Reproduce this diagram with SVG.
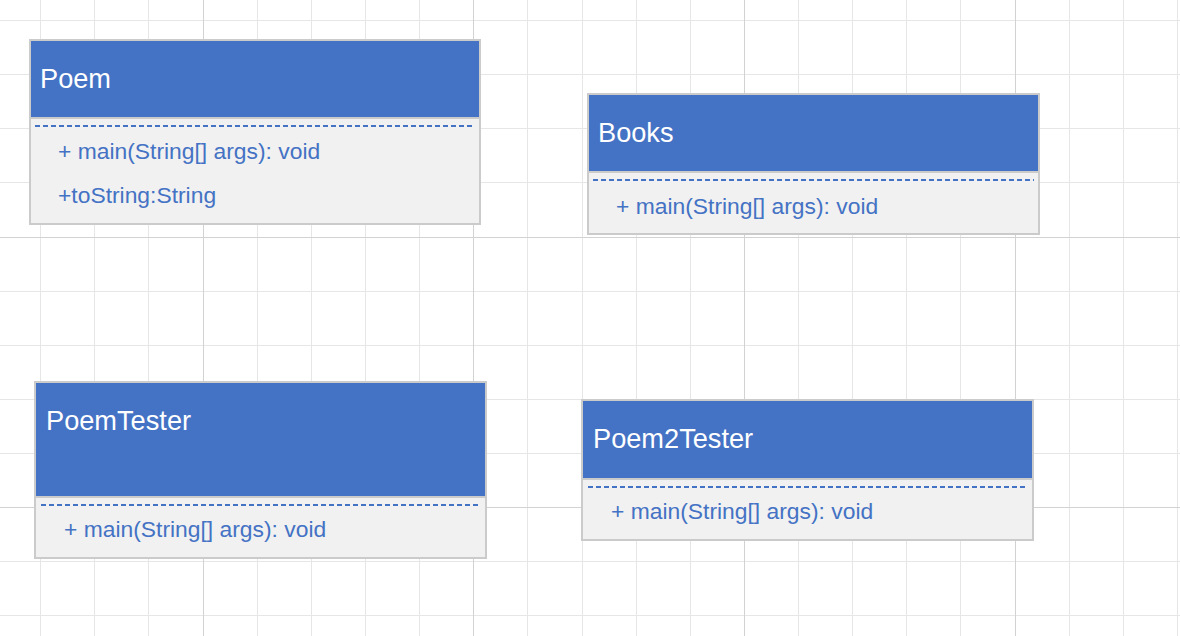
<svg xmlns="http://www.w3.org/2000/svg" width="1180" height="636" viewBox="0 0 1180 636">
<style>
.minor{stroke:#e6e6e6;stroke-width:1}
.major{stroke:#d2d2d2;stroke-width:1}
.box{fill:#f1f1f1;stroke:#cbcbcb;stroke-width:2}
.head{fill:#4472c4}
.sep{stroke:#cbcbcb;stroke-width:2}
.dash{stroke:#4472c4;stroke-width:2;stroke-dasharray:5 3}
.title{font-family:"Liberation Sans",Arial,sans-serif;font-size:27.2px;fill:#ffffff}
.member{font-family:"Liberation Sans",Arial,sans-serif;font-size:22.85px;fill:#4472c4}
</style>
<rect width="1180" height="636" fill="#ffffff"/>
<g id="grid">
<g class="minor">
<line x1="40.5" y1="0" x2="40.5" y2="636"/><line x1="94.5" y1="0" x2="94.5" y2="636"/><line x1="148.5" y1="0" x2="148.5" y2="636"/>
<line x1="257.5" y1="0" x2="257.5" y2="636"/><line x1="311.5" y1="0" x2="311.5" y2="636"/><line x1="365.5" y1="0" x2="365.5" y2="636"/><line x1="419.5" y1="0" x2="419.5" y2="636"/>
<line x1="527.5" y1="0" x2="527.5" y2="636"/><line x1="582.5" y1="0" x2="582.5" y2="636"/><line x1="636.5" y1="0" x2="636.5" y2="636"/><line x1="690.5" y1="0" x2="690.5" y2="636"/>
<line x1="798.5" y1="0" x2="798.5" y2="636"/><line x1="852.5" y1="0" x2="852.5" y2="636"/><line x1="906.5" y1="0" x2="906.5" y2="636"/><line x1="960.5" y1="0" x2="960.5" y2="636"/>
<line x1="1069.5" y1="0" x2="1069.5" y2="636"/><line x1="1123.5" y1="0" x2="1123.5" y2="636"/><line x1="1177.5" y1="0" x2="1177.5" y2="636"/>
<line x1="0" y1="20.5" x2="1180" y2="20.5"/><line x1="0" y1="74.5" x2="1180" y2="74.5"/><line x1="0" y1="128.5" x2="1180" y2="128.5"/><line x1="0" y1="182.5" x2="1180" y2="182.5"/>
<line x1="0" y1="291.5" x2="1180" y2="291.5"/><line x1="0" y1="345.5" x2="1180" y2="345.5"/><line x1="0" y1="399.5" x2="1180" y2="399.5"/><line x1="0" y1="453.5" x2="1180" y2="453.5"/>
<line x1="0" y1="561.5" x2="1180" y2="561.5"/><line x1="0" y1="615.5" x2="1180" y2="615.5"/>
</g>
<g class="major">
<line x1="203.5" y1="0" x2="203.5" y2="636"/><line x1="473.5" y1="0" x2="473.5" y2="636"/><line x1="744.5" y1="0" x2="744.5" y2="636"/><line x1="1015.5" y1="0" x2="1015.5" y2="636"/>
<line x1="0" y1="237.5" x2="1180" y2="237.5"/><line x1="0" y1="507.5" x2="1180" y2="507.5"/>
</g>
</g>
<g id="connectors"></g>
<g id="Poem">
<rect class="box" x="30" y="40" width="450" height="184"/>
<rect class="head" x="31" y="41" width="448" height="76"/>
<line class="sep" x1="30" y1="118" x2="480" y2="118"/>
<line class="dash" x1="35" y1="126" x2="475" y2="126"/>
<text class="title" x="40" y="88">Poem</text>
<text class="member" x="58" y="159">+ main(String[] args): void</text>
<text class="member" x="58" y="203">+toString:String</text>
</g>
<g id="Books">
<rect class="box" x="588" y="94" width="451" height="140"/>
<rect class="head" x="589" y="95" width="449" height="76"/>
<line class="sep" x1="588" y1="172" x2="1039" y2="172"/>
<line class="dash" x1="593" y1="180" x2="1034" y2="180"/>
<text class="title" x="598" y="142">Books</text>
<text class="member" x="616" y="214">+ main(String[] args): void</text>
</g>
<g id="PoemTester">
<rect class="box" x="35" y="382" width="451" height="176"/>
<rect class="head" x="36" y="383" width="449" height="113"/>
<line class="sep" x1="35" y1="497" x2="486" y2="497"/>
<line class="dash" x1="41" y1="505" x2="481" y2="505"/>
<text class="title" x="46" y="430">PoemTester</text>
<text class="member" x="64" y="537">+ main(String[] args): void</text>
</g>
<g id="Poem2Tester">
<rect class="box" x="582" y="400" width="451" height="140"/>
<rect class="head" x="583" y="401" width="449" height="77"/>
<line class="sep" x1="582" y1="479" x2="1033" y2="479"/>
<line class="dash" x1="588" y1="487" x2="1028" y2="487"/>
<text class="title" x="593" y="448">Poem2Tester</text>
<text class="member" x="611" y="519">+ main(String[] args): void</text>
</g>
</svg>
